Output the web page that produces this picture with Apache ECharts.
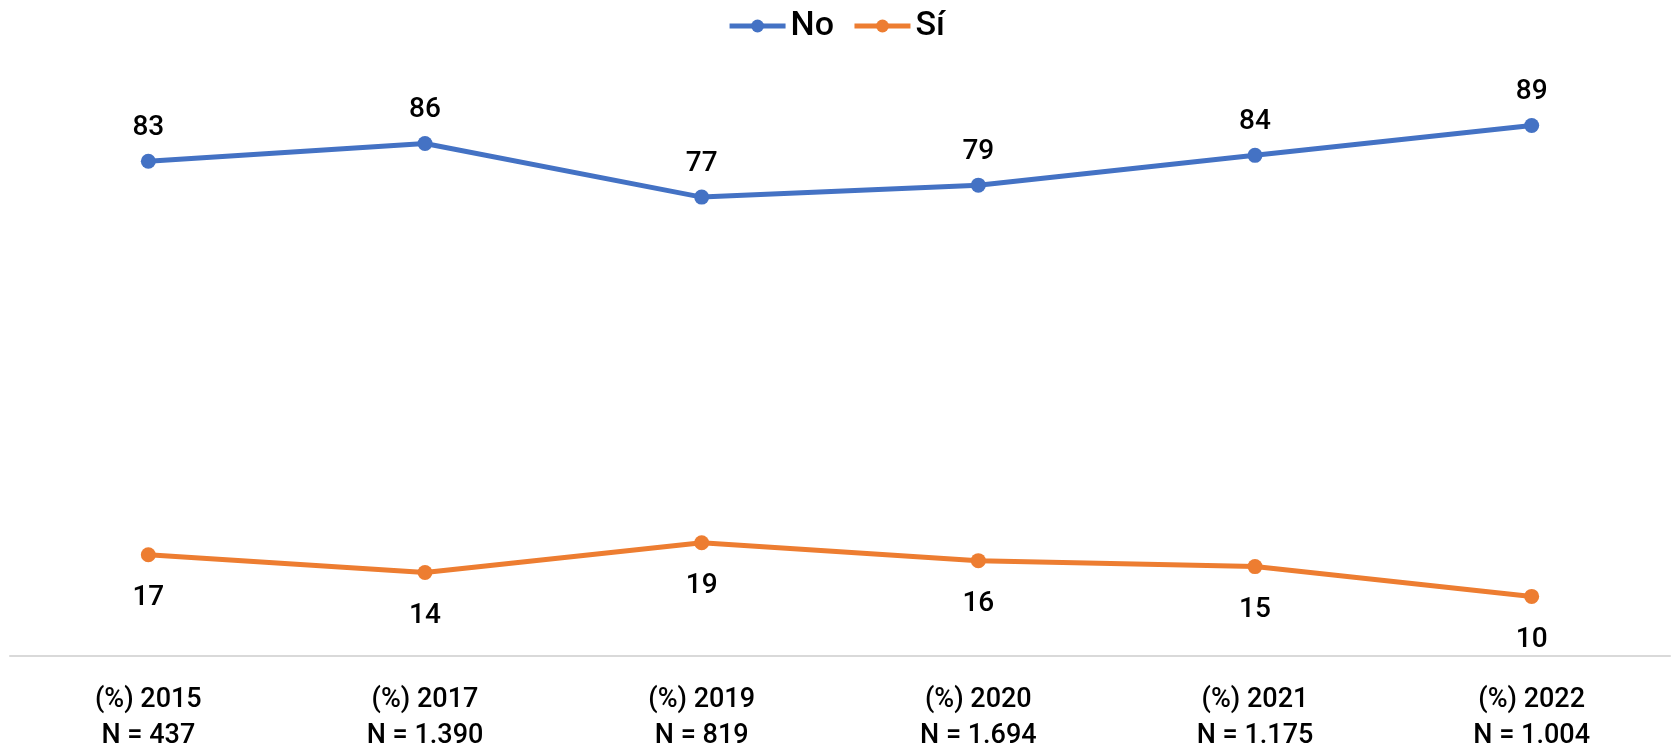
<!DOCTYPE html>
<html>
<head>
<meta charset="utf-8">
<script src="https://cdn.jsdelivr.net/npm/echarts@6/dist/echarts.min.js"></script>
<style>
  html, body { margin: 0; padding: 0; background: #fff; }
  #chart { width: 1672px; height: 754px; }
</style>
</head>
<body>
<div id="chart"></div>
<script>
// categorías del eje x
const years = ["(%) 2015", "(%) 2017", "(%) 2019", "(%) 2020", "(%) 2021", "(%) 2022"];
const sampleSizes = ["N = 437", "N = 1.390", "N = 819", "N = 1.694", "N = 1.175", "N = 1.004"];
// valores de cada serie
const noValues = [83, 86, 77, 79, 84, 89];
const siValues = [17, 14, 19, 16, 15, 10];

const categories = years.map((y, i) => y + "\n" + sampleSizes[i]);
const font = "Roboto";

let myChart = echarts.init(document.getElementById("chart"));
myChart.setOption({
  animation: false,
  color: ["#4472C4", "#ED7D31"],
  textStyle: { fontFamily: font },
  legend: {
    top: 4,
    left: "center",
    itemWidth: 56,
    itemHeight: 16,
    itemGap: 18,
    lineStyle: { width: 5 },
    textStyle: { fontSize: 34, fontWeight: 500, color: "#000", fontFamily: font },
    data: ["No", "Sí"],
  },
  grid: {
    left: 10,
    right: 2,
    top: 60,
    bottom: 95,
  },
  xAxis: {
    type: "category",
    data: categories,
    axisTick: { show: false },
    axisLine: { lineStyle: { color: "#d9d9d9", width: 2 } },
    axisLabel: {
      margin: 26,
      fontSize: 27,
      fontWeight: 500,
      lineHeight: 36,
      color: "#000",
      fontFamily: font,
    },
  },
  yAxis: {
    type: "value",
    min: 0,
    max: 100,
    show: false,
  },
  series: [
    {
      name: "No",
      type: "line",
      data: noValues,
      symbol: "circle",
      symbolSize: 15,
      lineStyle: { width: 5 },
      label: {
        show: true,
        position: "top",
        distance: 11,
        fontSize: 28,
        fontWeight: 500,
        lineHeight: 30,
        color: "#000",
        fontFamily: font,
      },
    },
    {
      name: "Sí",
      type: "line",
      data: siValues,
      symbol: "circle",
      symbolSize: 15,
      lineStyle: { width: 5 },
      label: {
        show: true,
        position: "bottom",
        distance: 21,
        fontSize: 28,
        fontWeight: 500,
        lineHeight: 30,
        color: "#000",
        fontFamily: font,
      },
    },
  ],
});

window.addEventListener("resize", () => {
  myChart.resize();
});
</script>
</body>
</html>
